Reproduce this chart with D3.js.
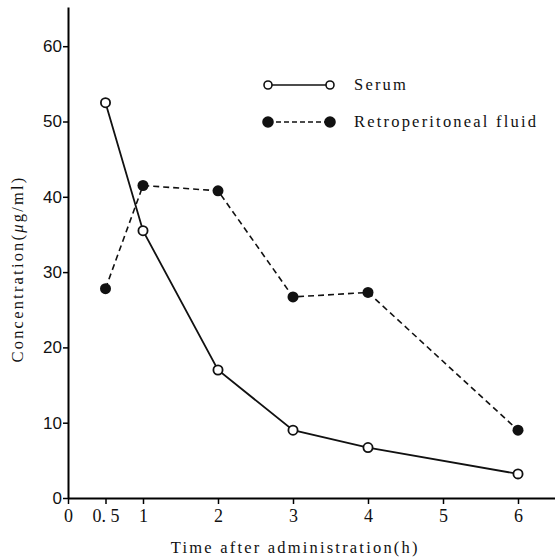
<!DOCTYPE html>
<html>
<head>
<meta charset="utf-8">
<script src="https://cdn.jsdelivr.net/npm/d3@7"></script>
<style>
  body { margin: 0; background: #fff; }
  text { font-family: "Liberation Serif", "DejaVu Serif", serif; fill: #111; }
</style>
</head>
<body>
<svg id="chart" width="555" height="557"></svg>
<script>
// data
const times = [0.5, 1, 2, 3, 4, 6];
const serum = [52.5, 35.5, 17, 9, 6.7, 3.2];
const retro = [27.8, 41.5, 40.8, 26.7, 27.3, 9];
const xTicks = [0, 0.5, 1, 2, 3, 4, 5, 6];
const yTicks = [0, 10, 20, 30, 40, 50, 60];
const seriesNames = ["Serum", "Retroperitoneal fluid"];

const svg = d3.select("#chart");
const left = 68, bottom = 498;

const x = d3.scaleLinear().domain([0, 6.5]).range([left, left + 75 * 6.5]);
const y = d3.scaleLinear().domain([0, 65.2]).range([bottom, bottom - 7.53 * 65.2]);

// axes
const xAxis = d3.axisBottom(x).tickValues(xTicks)
    .tickFormat(d => d === 0.5 ? "0. 5" : d)
    .tickSize(6).tickSizeOuter(0);
const gx = svg.append("g").attr("transform", "translate(0," + bottom + ")").call(xAxis);
gx.select(".domain").attr("stroke-width", 2);
gx.selectAll(".tick line").attr("stroke-width", 1.5);
gx.selectAll(".tick text").attr("font-size", 18).attr("dy", "0.85em")
    .style("font-family", "Liberation Serif").attr("fill", "#111");

const yAxis = d3.axisLeft(y).tickValues(yTicks).tickSize(5).tickSizeOuter(0);
const gy = svg.append("g").attr("transform", "translate(" + left + ",0)").call(yAxis);
gy.select(".domain").attr("stroke-width", 2);
gy.selectAll(".tick line").attr("stroke-width", 1.5);
gy.selectAll(".tick text").attr("font-size", 17).attr("x", -6)
    .style("font-family", "Liberation Sans").attr("fill", "#111");

// axis titles
svg.append("text")
    .attr("x", x(3.03)).attr("y", 553)
    .attr("text-anchor", "middle")
    .attr("font-size", 16.5).attr("letter-spacing", 2.2)
    .text("Time after administration(h)");

const ylab = svg.append("text")
    .attr("transform", "translate(23," + 269 + ") rotate(-90)")
    .attr("text-anchor", "middle")
    .attr("font-size", 16.5).attr("letter-spacing", 2.2);
ylab.append("tspan").text("Concentration(");
ylab.append("tspan").attr("font-style", "italic").text("μ");
ylab.append("tspan").text("g/ml)");

// lines
const pts = vals => times.map((t, i) => [t, vals[i]]);
const line = d3.line().x(d => x(d[0])).y(d => y(d[1]));

svg.append("path").datum(pts(retro)).attr("d", line)
    .attr("fill", "none").attr("stroke", "#111").attr("stroke-width", 1.6)
    .attr("stroke-dasharray", "6,4");
svg.append("path").datum(pts(serum)).attr("d", line)
    .attr("fill", "none").attr("stroke", "#111").attr("stroke-width", 1.8);

svg.selectAll(".ret").data(pts(retro)).enter().append("circle")
    .attr("cx", d => x(d[0])).attr("cy", d => y(d[1])).attr("r", 5.5)
    .attr("fill", "#111");
svg.selectAll(".ser").data(pts(serum)).enter().append("circle")
    .attr("cx", d => x(d[0])).attr("cy", d => y(d[1])).attr("r", 4.6)
    .attr("fill", "#fff").attr("stroke", "#111").attr("stroke-width", 1.8);

// legend
const leg = [
  { name: seriesNames[0], yy: 85, dash: null, fill: "#fff" },
  { name: seriesNames[1], yy: 122, dash: "5,3", fill: "#111" }
];
leg.forEach(l => {
  svg.append("line").attr("x1", 268).attr("x2", 330).attr("y1", l.yy).attr("y2", l.yy)
      .attr("stroke", "#111").attr("stroke-width", 1.6)
      .attr("stroke-dasharray", l.dash);
  [268, 330].forEach(cx => {
    svg.append("circle").attr("cx", cx).attr("cy", l.yy)
        .attr("r", l.fill === "#fff" ? 4 : 5)
        .attr("fill", l.fill).attr("stroke", "#111").attr("stroke-width", 1.6);
  });
  svg.append("text").attr("x", 354).attr("y", l.yy + 5)
      .attr("font-size", 16.5).attr("letter-spacing", 2.2).text(l.name);
});
</script>
</body>
</html>
